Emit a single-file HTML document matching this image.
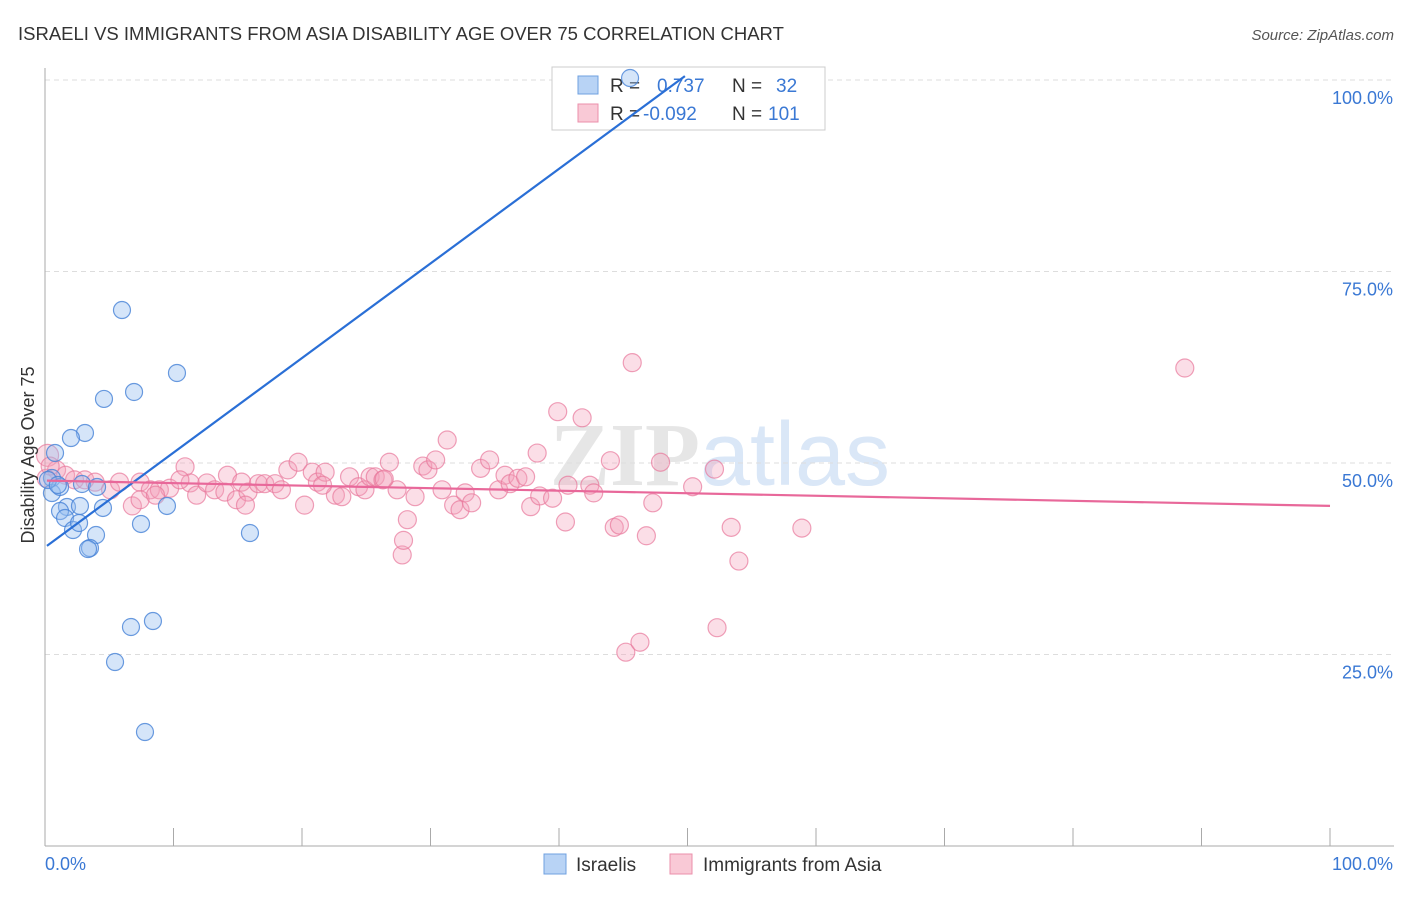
<!DOCTYPE html>
<html><head><meta charset="utf-8"><style>
body{margin:0;background:#fff;font-family:"Liberation Sans",sans-serif}
svg text{font-family:"Liberation Sans",sans-serif}
</style></head><body>
<svg id="chart" width="1406" height="892" xmlns="http://www.w3.org/2000/svg">
<text x="18" y="40" font-size="18.5" fill="#333">ISRAELI VS IMMIGRANTS FROM ASIA DISABILITY AGE OVER 75 CORRELATION CHART</text>
<text x="1394" y="40" font-size="15" fill="#555" font-style="italic" text-anchor="end">Source: ZipAtlas.com</text>
<text x="720" y="485" font-size="90" fill="#e4e8ee" text-anchor="middle" font-weight="bold"><tspan font-family="Liberation Serif" fill="#e6e6e6">ZIP</tspan><tspan fill="#dae7f7" font-weight="normal">atlas</tspan></text>
<g id="grid"></g><g id="axes"></g>
<g>
<rect x="552" y="67" width="273" height="63" fill="#fff" stroke="#ccc"/>
<rect x="578" y="76" width="20" height="18" fill="#b8d3f5" stroke="#6fa0e0"/>
<rect x="578" y="104" width="20" height="18" fill="#f9c9d6" stroke="#eb8fab"/>
<text x="610" y="92" font-size="19" fill="#333">R = </text><text x="657" y="92" font-size="19" fill="#3a78d4">0.737</text>
<text x="732" y="92" font-size="19" fill="#333">N = </text><text x="776" y="92" font-size="19" fill="#3a78d4">32</text>
<text x="610" y="120" font-size="19" fill="#333">R = </text><text x="643" y="120" font-size="19" fill="#3a78d4">-0.092</text>
<text x="732" y="120" font-size="19" fill="#333">N = </text><text x="768" y="120" font-size="19" fill="#3a78d4">101</text>
</g>
<g id="pts"></g><g id="lines"></g>
<text transform="translate(34,455) rotate(-90)" font-size="18" fill="#333" text-anchor="middle">Disability Age Over 75</text>
<g>
<rect x="544" y="854" width="22" height="20" fill="#b8d3f5" stroke="#6fa0e0"/>
<text x="576" y="871" font-size="19" fill="#333">Israelis</text>
<rect x="670" y="854" width="22" height="20" fill="#f9c9d6" stroke="#eb8fab"/>
<text x="703" y="871" font-size="19" fill="#333">Immigrants from Asia</text>
</g>
</svg>
<script>
const blueX=[5.99,6.93,10.27,4.59,3.11,2.02,0.78,0.54,0.54,1.17,1.71,2.72,1.17,1.56,2.18,2.65,3.97,3.5,3.35,4.51,7.47,9.49,15.95,8.4,6.69,5.45,7.78,45.53,0.23,1.0,2.88,4.05];
const blueY=[69.97,59.27,61.75,58.36,53.92,53.26,51.31,48.04,46.08,46.87,44.26,44.39,43.73,42.82,41.25,42.17,40.6,38.9,38.77,44.13,42.04,44.39,40.86,29.37,28.59,24.02,14.88,100.26,47.78,47.13,47.26,46.87];
const pinkX=[0.2,0.9,1.6,2.3,3.1,3.9,5.1,5.8,6.8,7.4,8.2,8.9,9.7,10.9,11.3,11.8,12.6,13.2,14.0,14.2,14.9,15.3,15.8,16.6,17.1,17.9,18.4,18.9,19.7,20.2,20.8,21.2,21.8,22.6,23.1,23.7,24.4,24.9,25.3,25.7,26.3,26.8,27.4,27.8,28.2,27.9,28.8,29.4,29.8,30.4,30.9,31.3,31.8,32.3,32.7,33.2,33.9,34.6,35.3,35.8,36.2,36.8,37.4,37.8,38.3,38.5,39.5,39.9,40.5,40.7,41.8,42.4,42.7,44.0,44.3,44.7,45.7,45.2,46.3,46.8,47.3,47.9,50.4,52.1,52.3,53.4,54.0,58.9,88.7,0.1,0.4,7.4,8.6,10.5,15.6,21.6,26.4];
const pinkY=[51.0,49.1,48.4,47.8,47.8,47.5,46.5,47.5,44.4,47.5,46.5,46.5,46.7,49.5,47.4,45.8,47.4,46.5,46.2,48.4,45.2,47.5,46.2,47.3,47.3,47.3,46.5,49.1,50.1,44.5,48.8,47.5,48.8,45.8,45.6,48.2,46.9,46.5,48.2,48.2,47.8,50.1,46.5,38.0,42.6,39.9,45.6,49.6,49.1,50.4,46.5,53.0,44.5,43.9,46.1,44.8,49.3,50.4,46.5,48.4,47.3,48.0,48.2,44.3,51.3,45.7,45.4,56.7,42.3,47.1,55.9,47.1,46.1,50.3,41.6,41.9,63.1,25.3,26.6,40.5,44.8,50.1,46.9,49.2,28.5,41.6,37.2,41.5,62.4,48.0,49.6,45.2,45.8,47.8,44.5,47.1,47.9];
const yTicks=[25,50,75,100];
const yTickLabels=["25.0%","50.0%","75.0%","100.0%"];
const xTickLabels=["0.0%","100.0%"];
const blueTrend=[39.0,1.235];
const pinkTrend=[47.7,-0.033];
const X=v=>45+v*12.85, Y=v=>846-v*7.66;
const NS="http://www.w3.org/2000/svg";
function mk(parent,tag,attrs){const e=document.createElementNS(NS,tag);for(const k in attrs)e.setAttribute(k,attrs[k]);document.getElementById(parent).appendChild(e);return e;}
yTicks.forEach((t,i)=>{
 const g=mk('grid','line',{x1:45,x2:1394,y1:Y(t),y2:Y(t),stroke:'#ddd','stroke-dasharray':'5,4'});
 
 
 const l=mk('grid','text',{x:1393,y:Y(t)+24,'font-size':18,fill:'#3a78d4','text-anchor':'end'});
 l.textContent=yTickLabels[i];
 
 
});
const ax=mk('axes','line',{x1:45,x2:45,y1:68,y2:846,stroke:'#aaa'});


const bx=mk('axes','line',{x1:45,x2:1394,y1:846,y2:846,stroke:'#aaa'});


for(let i=1;i<=10;i++){
 const t=mk('axes','line',{x1:X(i*10),x2:X(i*10),y1:828,y2:846,stroke:'#aaa'});
 
 
}
xTickLabels.forEach((s,i)=>{
 const t=mk('axes','text',{x:i?1393:45,y:870,'font-size':18,fill:'#3a78d4','text-anchor':i?'end':'start'});
 t.textContent=s;
 
 
});
pinkX.forEach((v,i)=>{
 const c=mk('pts','circle',{cx:X(v),cy:Y(pinkY[i]),r:i===0?11:9,fill:'rgba(244,160,185,0.35)',stroke:'rgba(232,120,155,0.7)','stroke-width':1.2});
 
 
});
blueX.forEach((v,i)=>{
 const c=mk('pts','circle',{cx:X(v),cy:Y(blueY[i]),r:8.5,fill:'rgba(150,190,240,0.4)',stroke:'rgba(70,130,215,0.8)','stroke-width':1.2});
 
 
});
const bEnd=(100.5-blueTrend[0])/blueTrend[1];
const bl=mk('lines','line',{x1:X(0.15),y1:Y(blueTrend[0]+blueTrend[1]*0.15),x2:X(bEnd),y2:Y(100.5),stroke:'#2a6fd6','stroke-width':2.2});


const pl=mk('lines','line',{x1:X(0.15),y1:Y(pinkTrend[0]),x2:X(100),y2:Y(pinkTrend[0]+pinkTrend[1]*100),stroke:'#e8689a','stroke-width':2.2});


</script>
</body></html>
